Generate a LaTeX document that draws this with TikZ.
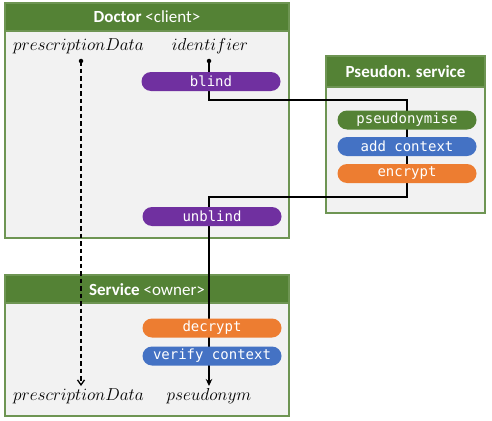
\documentclass[tikz,border=0pt]{standalone}
\usepackage{fontspec}
\setmainfont{Carlito}
\newfontfamily\monof{DejaVu Sans Mono}
\usetikzlibrary{arrows.meta}
\definecolor{hdgreen}{HTML}{548235}
\definecolor{boxfill}{HTML}{F2F2F2}
\definecolor{pillpurple}{HTML}{7030A0}
\definecolor{pillorange}{HTML}{ED7D31}
\definecolor{pillblue}{HTML}{4472C4}
\definecolor{pillgreen}{HTML}{548235}
\newcommand{\varname}[1]{$#1$}
\tikzset{
  x=1pt,y=1pt,
  frame/.style={draw=hdgreen!85!white,line width=1.3pt,fill=boxfill},
  header/.style={fill=hdgreen,draw=hdgreen!85!white,line width=1.3pt},
  title/.style={text=white,font=\fontsize{17}{20}\selectfont},
  pill/.style={rounded corners=9.5pt,minimum width=139pt,minimum height=19pt,inner sep=0pt,text=white,font=\monof\fontsize{14}{16}\selectfont},
  var/.style={inner sep=0pt,font=\fontsize{16}{19}\selectfont},
  flow/.style={line width=1.3pt},
  dot/.style={circle,fill=black,inner sep=0pt,minimum size=4.5pt},
}
\begin{document}
\begin{tikzpicture}
\useasboundingbox (0,0) rectangle (492,-420);
% boxes
\path[frame] (5,-3) rectangle (289,-238);
\path[header] (5,-3) rectangle (289,-31);
\node[title] (doctitle) at (147,-17) {\textbf{Doctor} <client>};
\path[frame] (326,-56) rectangle (485,-213);
\path[header] (326,-56) rectangle (485,-87);
\node[title] (pstitle) at (405.5,-72) {\textbf{Pseudon. service}};
\path[frame] (5,-275) rectangle (289,-416);
\path[header] (5,-275) rectangle (289,-303);
\node[title] (svtitle) at (147,-289.5) {\textbf{Service} <owner>};
% variables
\node[var] (pd1) at (78.5,-46) {\varname{prescriptionData}};
\node[var] (id) at (210,-46) {\varname{identifier}};
\node[var] (pd2) at (78.5,-396) {\varname{prescriptionData}};
\node[var] (psn) at (209,-396) {\varname{pseudonym}};
% coordinates
\coordinate (pdstart) at (81,-61);
\coordinate (pdend) at (81,-386);
\coordinate (idstart) at (209,-61);
\coordinate (c1) at (209,-100);
\coordinate (c2) at (407,-100);
\coordinate (c3) at (407,-197);
\coordinate (c4) at (209,-197);
\coordinate (psend) at (209,-386);
% connectors
\draw[flow,dash pattern=on 4.5pt off 3pt,-{Straight Barb[length=5pt,width=7pt]}] (pdstart) -- (pdend);
\draw[flow,-{Stealth[length=7pt,width=6.5pt]}] (idstart) -- (c1) -- (c2) -- (c3) -- (c4) -- (psend);
\node[dot] (d1) at (pdstart) {};
\node[dot] (d2) at (idstart) {};
% pills
\node[pill,fill=pillpurple] (blind) at (211,-81.5) {blind};
\node[pill,fill=pillpurple] (unblind) at (212,-216.5) {unblind};
\node[pill,fill=pillgreen] (pseud) at (407,-120) {pseudonymise};
\node[pill,fill=pillblue] (ctx) at (407,-146.5) {add context};
\node[pill,fill=pillorange] (enc) at (407,-173.5) {encrypt};
\node[pill,fill=pillorange] (dec) at (212,-328) {decrypt};
\node[pill,fill=pillblue] (ver) at (212,-356) {verify context};
\end{tikzpicture}
\end{document}
